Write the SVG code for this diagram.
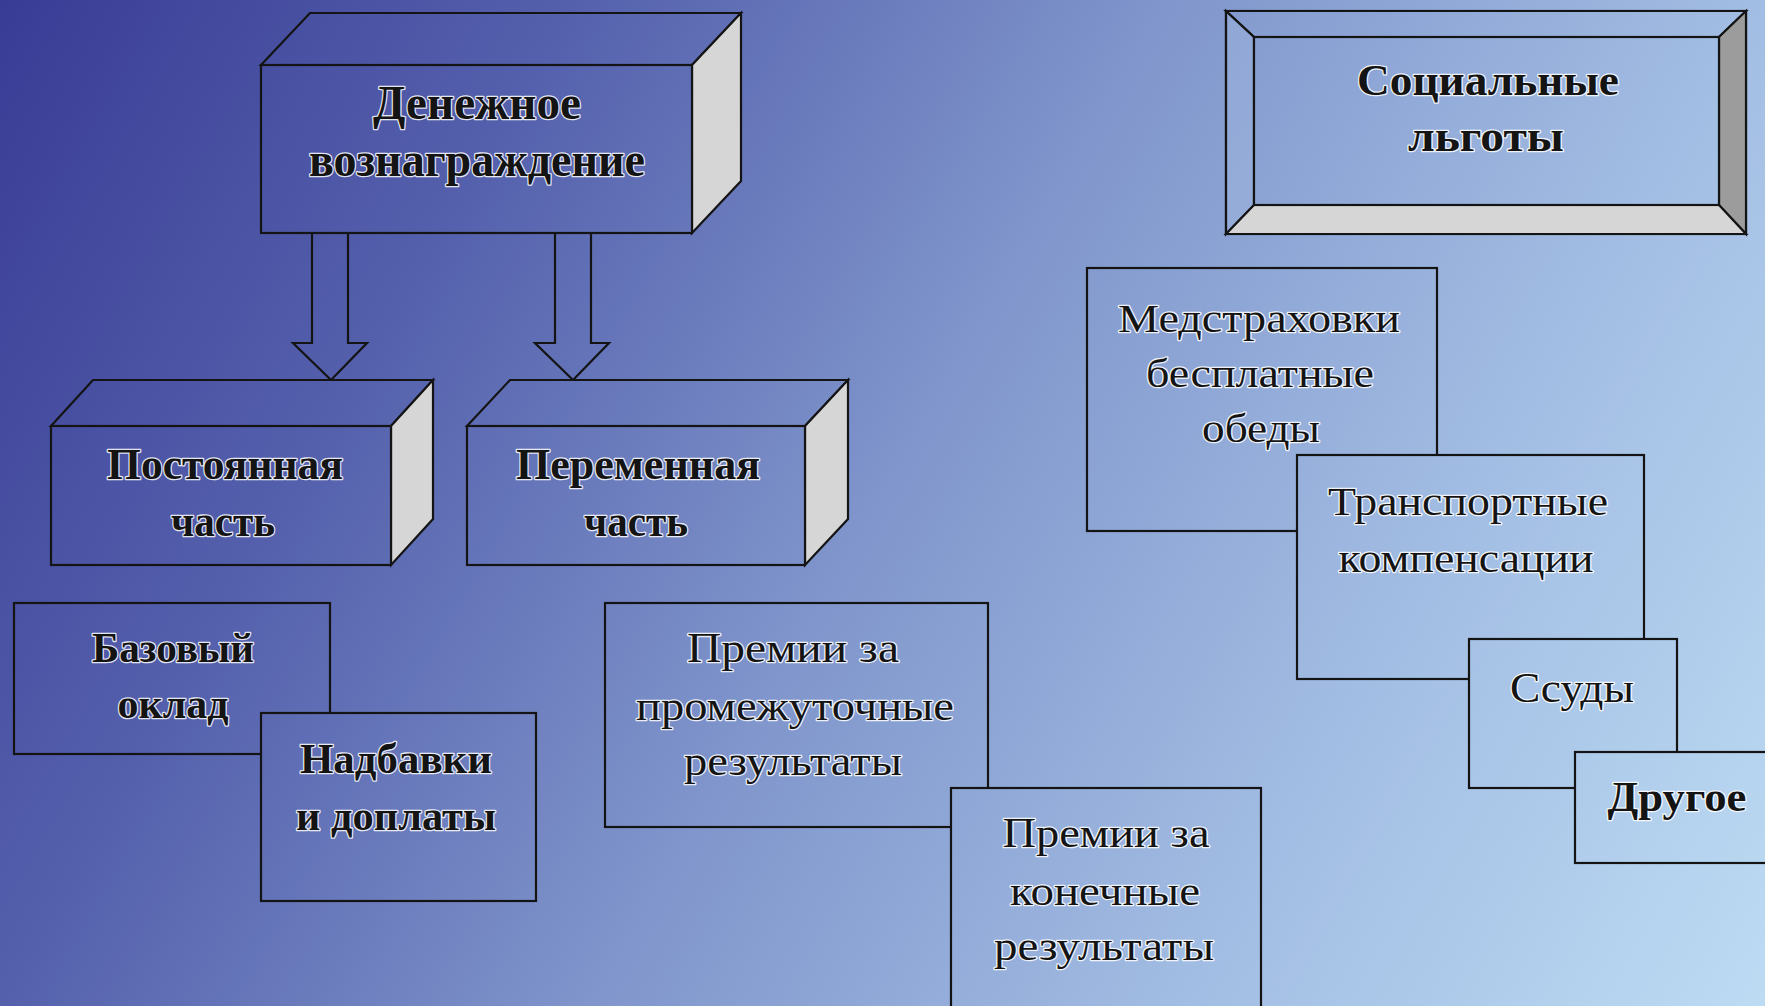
<svg xmlns="http://www.w3.org/2000/svg" width="1765" height="1006" viewBox="0 0 1765 1006">
<defs>
<linearGradient id="bg" gradientUnits="userSpaceOnUse" x1="0" y1="0" x2="1765" y2="1006">
<stop offset="0" stop-color="#393c95"/>
<stop offset="0.25" stop-color="#5561ad"/>
<stop offset="0.5" stop-color="#8096cc"/>
<stop offset="0.75" stop-color="#a2bde3"/>
<stop offset="1" stop-color="#bddbf3"/>
</linearGradient>
<style>
.box{fill:url(#bg);stroke:#141414;stroke-width:2.2;stroke-linejoin:miter}
.side{fill:#d6d6d6;stroke:#141414;stroke-width:2.2}
.dark{fill:#9c9c9c;stroke:#141414;stroke-width:2.2}
.arrow{fill:url(#bg);stroke:#141414;stroke-width:2.2;stroke-linejoin:miter}
text{font-family:"Liberation Serif","Times New Roman",serif;fill:#141414;stroke:#ffffff;stroke-opacity:0.85;stroke-width:2.6;paint-order:stroke;text-anchor:middle;stroke-linejoin:round}
.b{font-weight:bold}
.t48{font-size:48px}
.t45{font-size:45px}
.t43{font-size:43px}
.t41{font-size:41px}
</style>
</defs>
<rect x="0" y="0" width="1765" height="1006" fill="url(#bg)"/>

<g id="connectors">
<polygon class="arrow" points="312,233 348,233 348,343 367,343 331,380 293,343 312,343"/>
<polygon class="arrow" points="555,233 591,233 591,343 609,343 573,380 535,343 555,343"/>
</g>

<g id="node-money">
<polygon class="box" points="261,65 310,13 741,13 692,65"/>
<polygon class="side" points="692,65 741,13 741,181 692,233"/>
<rect class="box" x="261" y="65" width="431" height="168"/>
<text class="b t48" x="477" y="119" textLength="208" lengthAdjust="spacingAndGlyphs">Денежное</text>
<text class="b t48" x="477" y="176" textLength="336" lengthAdjust="spacingAndGlyphs">вознаграждение</text>
</g>

<g id="node-social">
<rect class="box" x="1226" y="11" width="520" height="223"/>
<polygon class="box" points="1226,11 1746,11 1719,37 1254,37"/>
<polygon class="box" points="1226,11 1254,37 1254,205 1226,234" style="fill:#a9bde2;fill-opacity:0.35"/>
<polygon class="dark" points="1746,11 1746,234 1719,205 1719,37"/>
<polygon class="side" points="1226,234 1254,205 1719,205 1746,234"/>
<rect class="box" x="1254" y="37" width="465" height="168"/>
<text class="b t45" x="1488" y="95" textLength="262" lengthAdjust="spacingAndGlyphs">Социальные</text>
<text class="b t45" x="1486" y="151" textLength="156" lengthAdjust="spacingAndGlyphs">льготы</text>
</g>

<g id="node-const">
<polygon class="box" points="51,426 93,380 433,380 391,426"/>
<polygon class="side" points="391,426 433,380 433,519 391,565"/>
<rect class="box" x="51" y="426" width="340" height="139"/>
<text class="b t45" x="225" y="479" textLength="236" lengthAdjust="spacingAndGlyphs">Постоянная</text>
<text class="b t45" x="223" y="536" textLength="104" lengthAdjust="spacingAndGlyphs">часть</text>
</g>

<g id="node-var">
<polygon class="box" points="467,426 510,380 848,380 805,426"/>
<polygon class="side" points="805,426 848,380 848,519 805,565"/>
<rect class="box" x="467" y="426" width="338" height="139"/>
<text class="b t45" x="638" y="479" textLength="244" lengthAdjust="spacingAndGlyphs">Переменная</text>
<text class="b t45" x="636" y="536" textLength="104" lengthAdjust="spacingAndGlyphs">часть</text>
</g>

<g id="node-base">
<rect class="box" x="14" y="603" width="316" height="151"/>
<text class="b t43" x="173" y="662" textLength="162" lengthAdjust="spacingAndGlyphs">Базовый</text>
<text class="b t43" x="173" y="718" textLength="111" lengthAdjust="spacingAndGlyphs">оклад</text>
</g>

<g id="node-extra">
<rect class="box" x="261" y="713" width="275" height="188"/>
<text class="b t43" x="396" y="773" textLength="192" lengthAdjust="spacingAndGlyphs">Надбавки</text>
<text class="b t43" x="396" y="830" textLength="200" lengthAdjust="spacingAndGlyphs">и доплаты</text>
</g>

<g id="node-bonus-mid">
<rect class="box" x="605" y="603" width="383" height="224"/>
<text class="t43" x="793" y="662" textLength="212" lengthAdjust="spacingAndGlyphs">Премии за</text>
<text class="t43" x="795" y="720" textLength="318" lengthAdjust="spacingAndGlyphs">промежуточные</text>
<text class="t43" x="793" y="775" textLength="218" lengthAdjust="spacingAndGlyphs">результаты</text>
</g>

<g id="node-bonus-final">
<rect class="box" x="951" y="788" width="310" height="230"/>
<text class="t43" x="1106" y="847" textLength="207" lengthAdjust="spacingAndGlyphs">Премии за</text>
<text class="t43" x="1105" y="905" textLength="190" lengthAdjust="spacingAndGlyphs">конечные</text>
<text class="t43" x="1104" y="960" textLength="220" lengthAdjust="spacingAndGlyphs">результаты</text>
</g>

<g id="node-med">
<rect class="box" x="1087" y="268" width="350" height="263"/>
<text class="t41" x="1259" y="332" textLength="282" lengthAdjust="spacingAndGlyphs">Медстраховки</text>
<text class="t41" x="1260" y="387" textLength="228" lengthAdjust="spacingAndGlyphs">бесплатные</text>
<text class="t41" x="1261" y="442" textLength="118" lengthAdjust="spacingAndGlyphs">обеды</text>
</g>

<g id="node-transport">
<rect class="box" x="1297" y="455" width="347" height="224"/>
<text class="t41" x="1468" y="515" textLength="280" lengthAdjust="spacingAndGlyphs">Транспортные</text>
<text class="t41" x="1466" y="572" textLength="255" lengthAdjust="spacingAndGlyphs">компенсации</text>
</g>

<g id="node-loans">
<rect class="box" x="1469" y="639" width="208" height="149"/>
<text class="t43" x="1572" y="702" textLength="124" lengthAdjust="spacingAndGlyphs">Ссуды</text>
</g>

<g id="node-other">
<rect class="box" x="1575" y="752" width="200" height="111"/>
<text class="b t43" x="1677" y="811" textLength="139" lengthAdjust="spacingAndGlyphs">Другое</text>
</g>
</svg>
